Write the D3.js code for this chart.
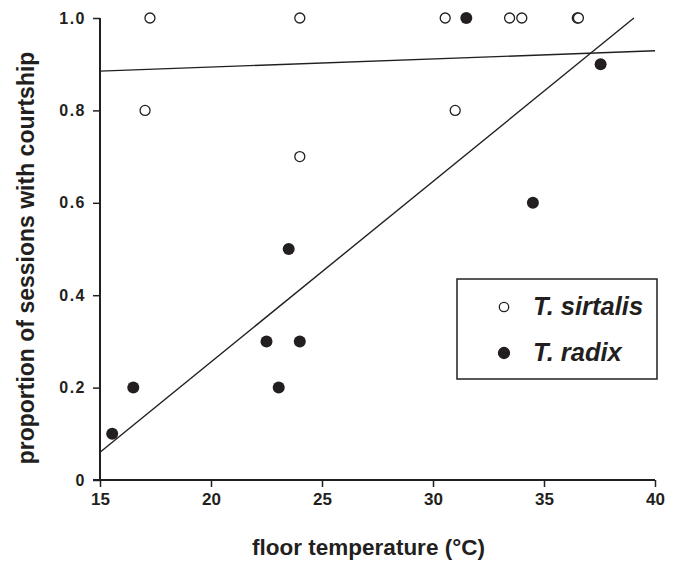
<!DOCTYPE html>
<html>
<head>
<meta charset="utf-8">
<script src="https://cdn.jsdelivr.net/npm/d3@7"></script>
<style>
  body { margin: 0; background: #fff; }
  text { font-family: "Liberation Sans", Arial, Helvetica, sans-serif; font-weight: bold; fill: #231f20; }
</style>
</head>
<body>
<svg id="vis" width="680" height="565"></svg>
<script>
// T. sirtalis (open circles)
var sirtalisTemp = [17.25, 17.03, 24.0, 24.0, 30.55, 31.0, 33.45, 34.0, 36.5, 36.55];
var sirtalisProp = [1.0, 0.8, 1.0, 0.7, 1.0, 0.8, 1.0, 1.0, 1.0, 1.0];
// T. radix (filled circles)
var radixTemp = [15.55, 16.5, 22.5, 23.05, 23.5, 24.0, 31.5, 34.5, 37.55];
var radixProp = [0.1, 0.2, 0.3, 0.2, 0.5, 0.3, 1.0, 0.6, 0.9];
// fitted lines, end points
var sirtalisFitTemp = [15, 40];
var sirtalisFitProp = [0.885, 0.929];
var radixFitTemp = [15, 39.05];
var radixFitProp = [0.06, 1.0];

var xTicks = [15, 20, 25, 30, 35, 40];
var yTicks = [0, 0.2, 0.4, 0.6, 0.8, 1.0];
var yTickLabels = ["0", "0.2", "0.4", "0.6", "0.8", "1.0"];
var legendLabels = ["T. sirtalis", "T. radix"];

var svg = d3.select("#vis");
var ink = "#231f20";

var xScale = d3.scaleLinear().domain([15, 40]).range([100, 655]);
var yScale = d3.scaleLinear().domain([0, 1]).range([480, 18]);

// y axis
svg.append("g")
  .attr("transform", "translate(100,0)")
  .call(d3.axisLeft(yScale).tickValues(yTicks).tickSize(7).tickPadding(7)
    .tickFormat((d, i) => yTickLabels[i]))
  .call(g => g.select(".domain").attr("stroke", ink).attr("stroke-width", 2).attr("d", "M0,18V480"))
  .call(g => g.selectAll(".tick line").attr("stroke", ink).attr("stroke-width", 1.5))
  .call(g => g.selectAll(".tick text")
    .style("font-size", "16px").style("letter-spacing", "1.5px")
    .attr("font-family", null).attr("fill", ink));

// x axis
svg.append("g")
  .attr("transform", "translate(0,480)")
  .call(d3.axisBottom(xScale).tickValues(xTicks).tickSize(7).tickPadding(6))
  .call(g => g.select(".domain").attr("stroke", ink).attr("stroke-width", 2).attr("d", "M93,0H655"))
  .call(g => g.selectAll(".tick line").attr("stroke", ink).attr("stroke-width", 1.5))
  .call(g => g.selectAll(".tick text")
    .style("font-size", "17px").attr("font-family", null).attr("fill", ink));

// axis titles
svg.append("text")
  .text("floor temperature (°C)")
  .attr("x", 368.5)
  .attr("y", 555)
  .attr("text-anchor", "middle")
  .style("font-size", "22.5px");

svg.append("text")
  .text("proportion of sessions with courtship")
  .attr("transform", "translate(34,258) rotate(-90)")
  .attr("text-anchor", "middle")
  .style("font-size", "23px");

// fitted lines
var line = d3.line().x(d => xScale(d[0])).y(d => yScale(d[1]));
svg.append("path")
  .attr("d", line(d3.zip(sirtalisFitTemp, sirtalisFitProp)))
  .attr("fill", "none").attr("stroke", ink).attr("stroke-width", 1.4);
svg.append("path")
  .attr("d", line(d3.zip(radixFitTemp, radixFitProp)))
  .attr("fill", "none").attr("stroke", ink).attr("stroke-width", 1.4);

// points
svg.append("g")
  .selectAll("circle")
  .data(d3.zip(sirtalisTemp, sirtalisProp))
  .enter()
  .append("circle")
  .attr("cx", d => xScale(d[0]))
  .attr("cy", d => yScale(d[1]))
  .attr("r", 5)
  .attr("fill", "#fff")
  .attr("stroke", ink)
  .attr("stroke-width", 1.3);

svg.append("g")
  .selectAll("circle")
  .data(d3.zip(radixTemp, radixProp))
  .enter()
  .append("circle")
  .attr("cx", d => xScale(d[0]))
  .attr("cy", d => yScale(d[1]))
  .attr("r", 6)
  .attr("fill", ink);

// legend
var legend = svg.append("g").attr("transform", "translate(457,279)");
legend.append("rect")
  .attr("width", 200).attr("height", 100)
  .attr("fill", "#fff").attr("stroke", ink).attr("stroke-width", 1.5);
legend.selectAll(".key")
  .data(legendLabels)
  .enter()
  .append("circle")
  .attr("cx", 47)
  .attr("cy", (d, i) => 28 + i * 46)
  .attr("r", (d, i) => i === 0 ? 4.7 : 5.5)
  .attr("fill", (d, i) => i === 0 ? "#fff" : ink)
  .attr("stroke", ink)
  .attr("stroke-width", 1.3);
legend.selectAll(".lab")
  .data(legendLabels)
  .enter()
  .append("text")
  .text(d => d)
  .attr("x", 76)
  .attr("y", (d, i) => 36 + i * 46)
  .style("font-size", "25.5px")
  .style("font-style", "italic");
</script>
</body>
</html>
